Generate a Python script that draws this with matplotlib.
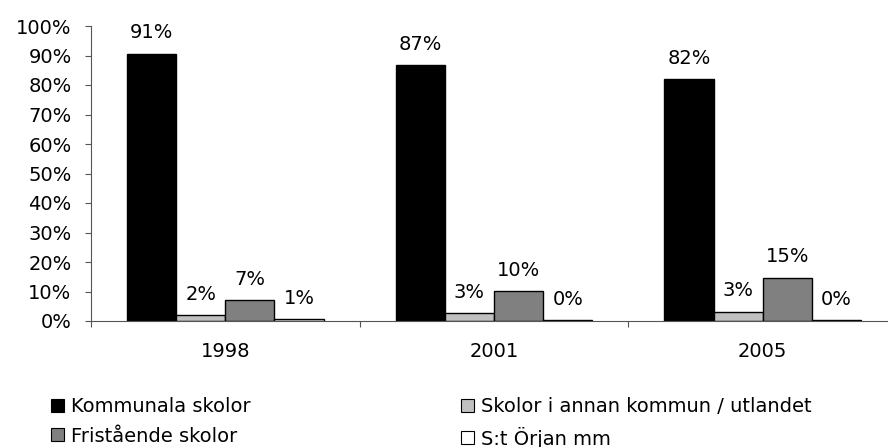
import matplotlib
matplotlib.use("Agg")
import matplotlib.pyplot as plt
import numpy as np
from matplotlib.patches import Patch

plt.rcParams['font.family'] = ['DejaVu Sans']
plt.rcParams['font.size'] = 14

years = ['1998', '2001', '2005']
series = ['Kommunala skolor', 'Skolor i annan kommun / utlandet',
          'Fristående skolor', 'S:t Örjan mm']
kommunala = [90.6, 86.8, 82.0]
annan_kommun = [2.1, 2.6, 3.2]
fristaende = [7.0, 10.1, 14.7]
st_orjan = [0.6, 0.4, 0.4]
colors = ['black', '#c0c0c0', '#808080', 'white']

values = [kommunala, annan_kommun, fristaende, st_orjan]

fig = plt.figure(figsize=(8.88, 4.47), dpi=100)
# plot area runs a little past the right edge, like the original
ax = fig.add_axes([91 / 888, 1 - 321 / 447, 806 / 888, 295 / 447])

x = np.arange(len(years))
w = 0.183
for i, (vals, c) in enumerate(zip(values, colors)):
    ax.bar(x + (i - 1.5) * w, vals, width=w, color=c,
           edgecolor='black', linewidth=1.0)
    for xi, v in zip(x + (i - 1.5) * w, vals):
        ax.annotate(f"{round(v):.0f}%", (xi, v), xytext=(0, 11),
                    textcoords='offset points', ha='center', va='baseline')

ax.set_xlim(-0.5, 2.5)
ax.set_ylim(0, 100)
ax.set_yticks(np.arange(0, 101, 10))
ax.set_yticklabels([f"{t}%" for t in range(0, 101, 10)])
ax.set_xticks([-0.5, 0.5, 1.5, 2.5])
ax.set_xticklabels([])
ax.set_xticks(x, minor=True)
ax.set_xticklabels(years, minor=True)
ax.tick_params(axis='x', which='minor', length=0, pad=15)
ax.tick_params(axis='x', which='major', length=4, direction='out', color='#555555')
ax.tick_params(axis='y', length=4, direction='out', pad=10, color='#555555')
for s in ['top', 'right']:
    ax.spines[s].set_visible(False)
for s in ['left', 'bottom']:
    ax.spines[s].set_color('#555555')

# legend in two columns below the chart
handles = [Patch(facecolor=colors[k], edgecolor='black', linewidth=0.8) for k in [0, 2, 1, 3]]
labels = [series[k] for k in [0, 2, 1, 3]]
fig.legend(handles, labels, ncol=2, loc='upper left',
           bbox_to_anchor=(51 / 888, 1 - 397 / 447), frameon=False,
           handlelength=0.65, handleheight=0.65, handletextpad=0.4,
           columnspacing=10.8, labelspacing=0.55, borderpad=0, borderaxespad=0)

fig.savefig('out.png', dpi=100)
